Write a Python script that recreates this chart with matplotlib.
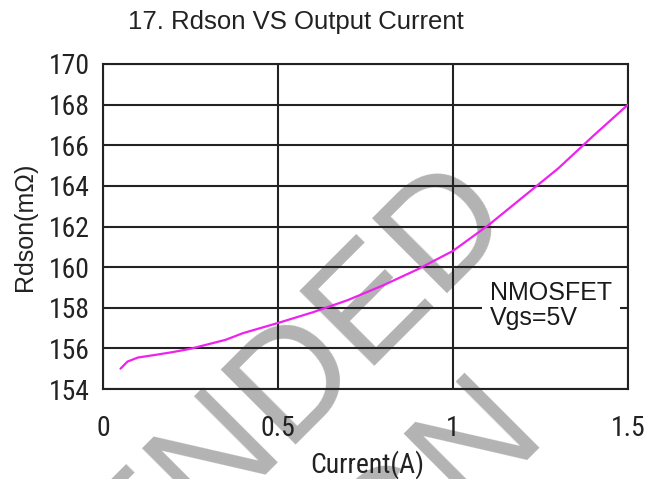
import matplotlib
matplotlib.use("Agg")
import matplotlib.pyplot as plt
from matplotlib import font_manager
from matplotlib.font_manager import FontProperties

# ---- data ----
current_a = [0.05, 0.07, 0.10, 0.15, 0.20, 0.25, 0.30, 0.35, 0.40, 0.50,
             0.60, 0.70, 0.80, 0.90, 1.00, 1.10, 1.20, 1.30, 1.40, 1.50]
rdson_mohm = [155.0, 155.35, 155.55, 155.68, 155.82, 155.98, 156.2, 156.42, 156.75, 157.25,
              157.78, 158.38, 159.1, 159.9, 160.8, 162.05, 163.45, 164.85, 166.45, 168.0]
x_ticks = [0, 0.5, 1, 1.5]
x_tick_labels = ["0", "0.5", "1", "1.5"]
y_ticks = [154, 156, 158, 160, 162, 164, 166, 168, 170]
y_tick_labels = [str(v) for v in y_ticks]
title = "17. Rdson VS Output Current"
x_label = "Current(A)"
y_label = "Rdson(mΩ)"
annotation = "NMOSFET\nVgs=5V"
watermark_lines = ["NOT RECOMMENDED", "FOR NEW DESIGN"]

names = {f.name for f in font_manager.fontManager.ttflist}
REG = "Liberation Sans" if "Liberation Sans" in names else "DejaVu Sans"


def find_narrow():
    cands = []
    for f in font_manager.fontManager.ttflist:
        fn = f.fname.lower()
        if f.style != "normal":
            continue
        if "bold" in fn or "italic" in fn or "oblique" in fn or "mono" in fn or "serif" in fn.replace("sans", ""):
            continue
        w = f.weight if isinstance(f.weight, int) else 400
        if w not in (400, "normal", "regular"):
            if w != 400:
                continue
        if "narrow" in fn and "liberation" in fn:
            cands.append((0, f.fname))
        elif "condensed" in fn and "semi" not in fn and "extra" not in fn:
            if "roboto" in fn:
                cands.append((1, f.fname))
            elif "dejavu" in fn:
                cands.append((2, f.fname))
            elif "opensans" in fn or "open" in fn:
                cands.append((3, f.fname))
            else:
                cands.append((4, f.fname))
    cands.sort()
    if cands:
        return FontProperties(fname=cands[0][1])
    return FontProperties(family=REG)


NARROW_FP = find_narrow()

TXT = "#222222"
LINE = "#222222"

fig = plt.figure(figsize=(6.62, 4.79), dpi=100)
fig.patch.set_facecolor("white")

# watermark (behind the axes)
wm_color = "#b3b3b3"
fig.text(517 / 662, 1 - 223 / 479, watermark_lines[0], fontsize=111, family=REG,
         color=wm_color, rotation=45, rotation_mode="anchor", ha="right",
         va="baseline", zorder=-5)
fig.text(549 / 662, 1 - 438 / 479, watermark_lines[1], fontsize=111, family=REG,
         color=wm_color, rotation=45, rotation_mode="anchor", ha="right",
         va="baseline", zorder=-5)

ax = fig.add_axes([103 / 662, 1 - 389 / 479, 525 / 662, 325 / 479])
ax.patch.set_alpha(0)

ax.plot(current_a, rdson_mohm, color="#ee22ee", lw=1.6, solid_joinstyle="round",
        solid_capstyle="round", zorder=4)

ax.set_xlim(0, 1.5)
ax.set_ylim(154, 170)
ax.set_xticks(x_ticks)
ax.set_xticklabels(x_tick_labels)
ax.set_yticks(y_ticks)
ax.set_yticklabels(y_tick_labels)
ax.grid(True, color=LINE, lw=1.5)
for s in ax.spines.values():
    s.set_color(LINE)
    s.set_linewidth(1.5)
ax.tick_params(axis="x", length=0, pad=19, labelcolor=TXT)
ax.tick_params(axis="y", length=0, pad=9.4, labelcolor=TXT)
for lab in ax.get_xticklabels() + ax.get_yticklabels():
    lab.set_fontproperties(NARROW_FP)
    lab.set_fontsize(20)

ax.set_xlabel(x_label, color=TXT)
ax.xaxis.label.set_fontproperties(NARROW_FP)
ax.xaxis.label.set_fontsize(20)
ax.xaxis.set_label_coords(0.503, -0.188)
ax.set_ylabel(y_label, fontsize=18, family=REG, color=TXT)
ax.yaxis.set_label_coords(-0.126, 0.5)

ax.text(1.106, 159.3, annotation, fontsize=18, family=REG, color="#1a1a1a",
        ha="left", va="top", linespacing=1.05, zorder=5,
        bbox=dict(facecolor="white", edgecolor="none", pad=6))

fig.text(296 / 662, 1 - 10 / 479, title, fontsize=18.5, family=REG, color=TXT,
         ha="center", va="top")

fig.savefig("out.png", dpi=100)
